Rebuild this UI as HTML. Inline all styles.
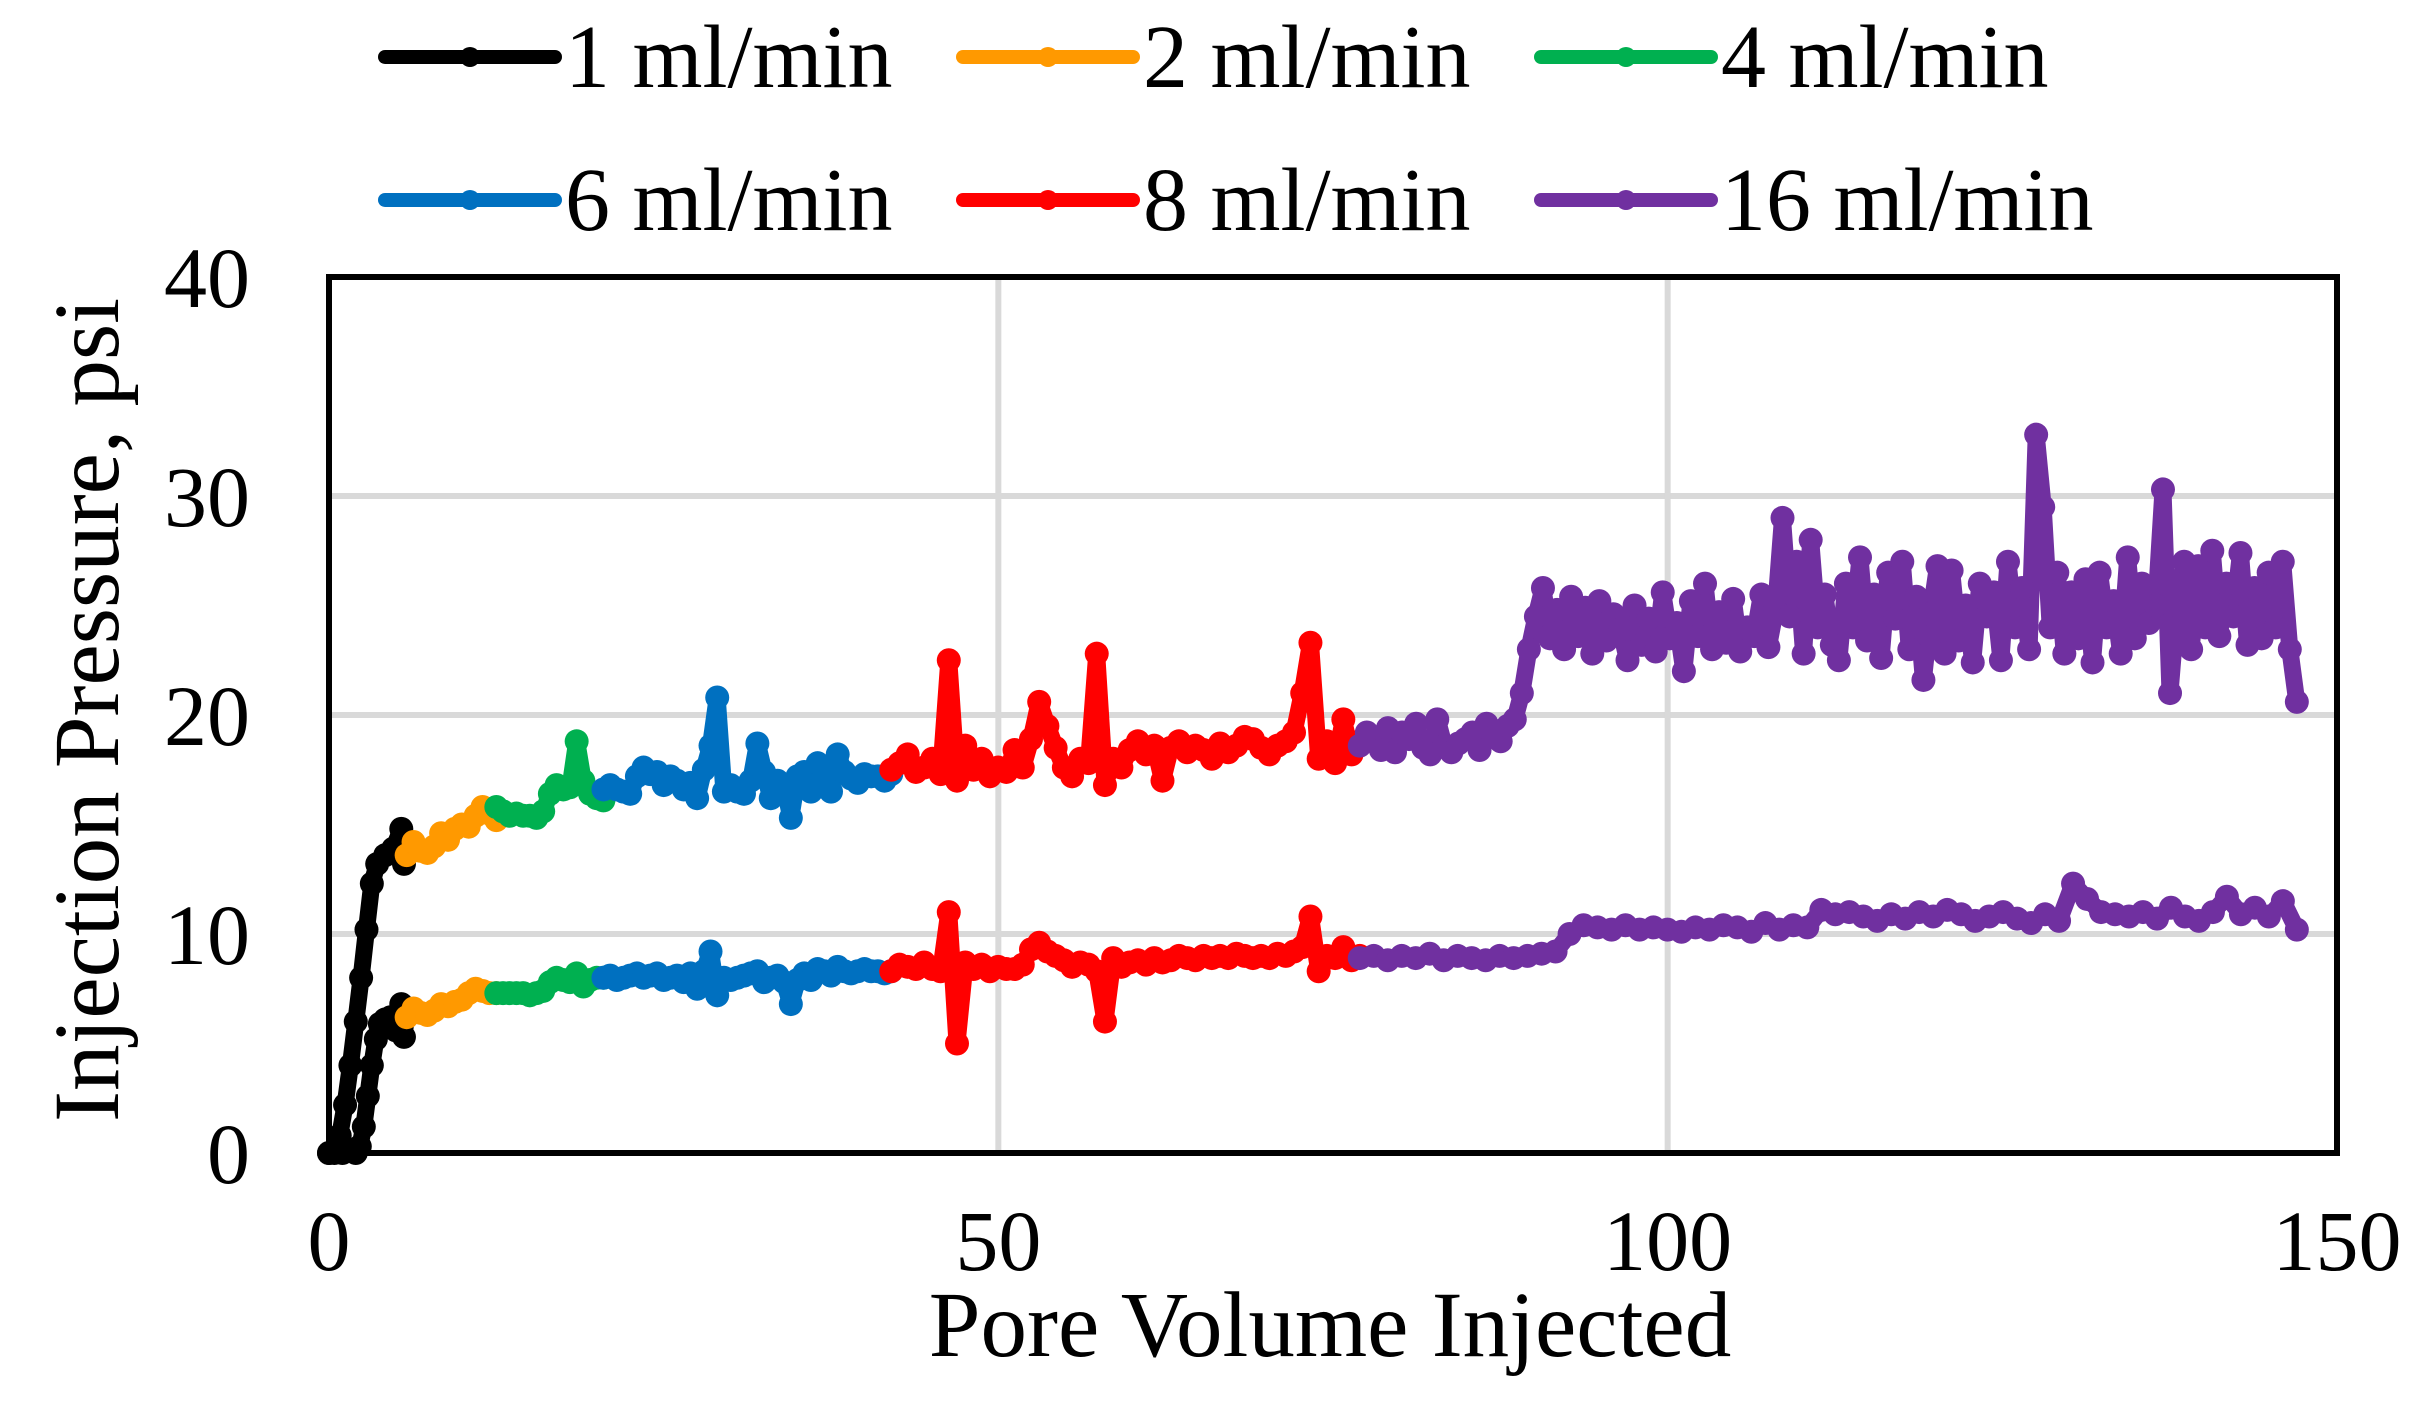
<!DOCTYPE html>
<html><head><meta charset="utf-8"><style>
html,body{margin:0;padding:0;background:#fff}
svg text{font-family:"Liberation Serif","Times New Roman",serif;fill:#000}
</style></head><body>
<svg id="chart" width="2416" height="1405" viewBox="0 0 2416 1405" xmlns="http://www.w3.org/2000/svg">
<g id="grid"></g>
<g id="series"></g>
<rect x="329" y="277" width="2008" height="876" fill="none" stroke="#000" stroke-width="6"/>
<g id="ticks"></g>
<text x="1330" y="1356" font-size="93" text-anchor="middle">Pore Volume Injected</text>
<text transform="translate(118,710) rotate(-90)" font-size="93" text-anchor="middle">Injection Pressure, psi</text>
<g id="legend"></g>
</svg>
<script>
const xTicks=[0,50,100,150];
const yTicks=[0,10,20,30,40];
const seriesNames=["1 ml/min","2 ml/min","4 ml/min","6 ml/min","8 ml/min","16 ml/min"];
const seriesColors=["#000000","#FF9900","#00B050","#0070C0","#FF0000","#7030A0"];
const seriesXRange=[[0,5.8],[5.8,12.5],[12.5,20.5],[20.5,42],[42,77],[77,147]];
const blackUpperX=[0,0.4,0.8,1.2,1.6,2,2.4,2.8,3.2,3.6,4.2,4.8,5.4,5.6,5.8];
const blackUpper=[0,0,0.8,2.2,4,6,8,10.2,12.3,13.2,13.6,13.9,14.8,13.2,13.8];
const blackLowerX=[0,1,2,2.3,2.6,2.9,3.2,3.5,3.8,4.2,4.6,5,5.4,5.6,5.8];
const blackLower=[0,0,0,0.3,1.2,2.6,4,5.2,5.9,6.1,6.2,5.6,6.8,5.3,6.3];
const orangeUpper=[13.6,14.2,13.8,13.7,14.0,14.6,14.3,14.8,15.0,14.9,15.4,15.8,15.5,15.2];
const orangeLower=[6.2,6.6,6.4,6.3,6.5,6.8,6.7,6.9,7.0,7.3,7.5,7.4,7.3,7.3];
const greenUpper=[15.8,15.6,15.4,15.5,15.4,15.4,15.3,15.6,16.4,16.8,16.6,16.7,18.8,17.0,16.4,16.2,16.1];
const greenLower=[7.3,7.3,7.3,7.3,7.3,7.2,7.3,7.4,7.8,8.0,7.9,7.8,8.2,7.6,7.9,8.0,8.0];
const blueUpper=[16.6,16.8,16.6,16.5,16.4,17.2,17.6,17.3,17.4,16.8,17.2,17.0,16.6,16.9,16.2,17.5,18.6,20.8,16.5,16.8,16.5,16.4,17.0,18.7,17.4,16.2,17.0,16.8,15.3,17.2,17.4,16.5,17.8,17.3,16.5,18.2,17.4,17.1,16.9,17.3,17.2,17.2,17.0,17.3];
const blueLower=[8.0,8.1,7.9,8.0,8.1,8.2,8.0,8.1,8.2,7.9,8.0,8.1,7.8,8.2,7.5,8.3,9.2,7.2,8.0,7.9,8.0,8.1,8.2,8.3,7.8,8.0,8.1,7.8,6.8,7.9,8.2,7.9,8.4,8.3,8.1,8.5,8.3,8.2,8.3,8.4,8.3,8.3,8.2,8.3];
const redUpper=[17.5,17.8,18.2,17.4,17.6,18.0,17.3,22.5,17.0,18.6,17.5,18.0,17.2,17.6,17.4,18.4,17.6,18.9,20.6,19.5,18.5,17.6,17.2,18.0,17.8,22.8,16.8,18.0,17.6,18.4,18.8,18.2,18.6,17.0,18.5,18.8,18.3,18.6,18.4,18.0,18.7,18.3,18.6,19.0,18.9,18.5,18.2,18.6,18.8,19.2,21.0,23.3,18.0,18.8,17.8,19.8,18.2,18.8];
const redLower=[8.3,8.6,8.5,8.4,8.7,8.4,8.3,11.0,5.0,8.7,8.4,8.6,8.3,8.5,8.4,8.4,8.6,9.3,9.6,9.2,9.0,8.8,8.5,8.7,8.6,8.3,6.0,8.9,8.5,8.7,8.8,8.6,8.9,8.7,8.8,9.0,8.9,8.8,9.0,8.9,9.0,8.9,9.1,9.0,8.9,9.0,8.9,9.1,9.0,9.2,9.4,10.8,8.3,9.0,8.9,9.4,8.8,9.0];
const purpleUpper=[18.6,19.2,18.8,18.4,19.4,18.3,19.2,18.9,19.6,18.5,18.2,19.8,18.6,18.3,18.7,18.9,19.2,18.4,19.6,19.0,18.8,19.5,19.8,21,23,24.5,
25.8,23.5,24.8,23.0,25.4,23.6,24.9,22.8,25.2,23.4,24.6,23.9,22.5,25.0,23.2,24.4,22.9,25.6,23.5,24.2,22.0,25.2,23.6,26.0,23.0,24.7,23.3,25.3,22.9,24.0,23.6,25.5,23.1,24.8,
29.0,24.5,27.0,22.8,28.0,24.0,25.5,23.2,22.5,26.0,24.0,27.2,23.4,25.5,22.6,26.5,24.4,27.0,23.0,25.4,21.6,24.6,26.8,22.8,26.6,23.4,25.0,22.4,26.0,24.5,25.6,22.5,27.0,24.0,25.8,23.0,
32.8,29.5,24.0,26.5,22.8,25.6,23.5,26.2,22.4,26.5,24.0,25.2,22.8,27.2,23.5,26.0,24.2,25.0,
30.3,21.0,25.0,27.0,23.0,26.8,24.0,27.5,23.6,26.0,24.5,27.4,23.2,25.8,23.5,26.5,24.0,27.0,23.0,20.6];
const purpleLower=[8.9,9.0,8.8,9.0,8.9,9.1,8.8,9.0,8.9,8.8,9.0,8.9,9.0,9.1,9.2,10.0,10.4,10.3,10.2,10.4,10.2,10.3,10.2,10.1,10.3,10.2,10.4,10.3,10.1,10.5,10.2,10.4,10.3,11.1,10.9,11.0,10.8,10.6,10.9,10.7,11.0,10.8,11.1,10.9,10.6,10.8,11.0,10.7,10.5,10.9,10.6,12.3,11.6,11.0,10.9,10.8,11.0,10.7,11.2,10.8,10.6,11.0,11.7,10.9,11.2,10.8,11.5,10.2];

const NS="http://www.w3.org/2000/svg";
const X0=329,X1=2337,Y0=1153,Y1=277;
function sx(v){return X0+(v-xTicks[0])/(xTicks[xTicks.length-1]-xTicks[0])*(X1-X0);}
function sy(v){return Y0-(v-yTicks[0])/(yTicks[yTicks.length-1]-yTicks[0])*(Y0-Y1);}
function mk(tag,attrs,parent){const e=document.createElementNS(NS,tag);for(const k in attrs)e.setAttribute(k,attrs[k]);parent.appendChild(e);return e;}
const grid=document.getElementById('grid'),ticks=document.getElementById('ticks'),ser=document.getElementById('series'),leg=document.getElementById('legend');
yTicks.forEach(t=>{
  if(t>yTicks[0]&&t<yTicks[yTicks.length-1]){const l=mk('line',{x1:X0,x2:X1,y1:sy(t),y2:sy(t),stroke:'#D9D9D9','stroke-width':6},grid);
  
  }
  const tx=mk('text',{x:250,y:sy(t)+30,'font-size':86,'text-anchor':'end'},ticks);tx.textContent=t;
  
  
});
xTicks.forEach(t=>{
  if(t>xTicks[0]&&t<xTicks[xTicks.length-1]){const l=mk('line',{x1:sx(t),x2:sx(t),y1:Y1,y2:Y0,stroke:'#D9D9D9','stroke-width':6},grid);
  
  }
  const tx=mk('text',{x:sx(t),y:1270,'font-size':86,'text-anchor':'middle'},ticks);tx.textContent=t;
  
  
});
function drawCurve(xs,ys,color,name){
  const g=mk('g',{},ser);
  
  
  const pts=ys.map((y,i)=>sx(xs[i]).toFixed(1)+','+sy(y).toFixed(1)).join(' ');
  mk('polyline',{points:pts,fill:'none',stroke:color,'stroke-width':17,'stroke-linejoin':'round'},g);
  ys.forEach((y,i)=>{const c=mk('circle',{cx:sx(xs[i]),cy:sy(y),r:12,fill:color},g);
    
    });
}
function spread(range,n){const a=[];for(let i=0;i<n;i++)a.push(range[0]+(range[1]-range[0])*i/(n-1));return a;}
drawCurve(blackUpperX,blackUpper,seriesColors[0],'series-1mlmin-upper');
drawCurve(blackLowerX,blackLower,seriesColors[0],'series-1mlmin-lower');
const others=[[orangeUpper,orangeLower],[greenUpper,greenLower],[blueUpper,blueLower],[redUpper,redLower],[purpleUpper,purpleLower]];
others.forEach((pair,k)=>{const idx=k+1;
  drawCurve(spread(seriesXRange[idx],pair[0].length),pair[0],seriesColors[idx],'series-'+idx+'-upper');
  drawCurve(spread(seriesXRange[idx],pair[1].length),pair[1],seriesColors[idx],'series-'+idx+'-lower');
});
const legX=[385,963,1541],legY=[57,200];
seriesNames.forEach((n,i)=>{
  const lx=legX[i%3],ly=legY[Math.floor(i/3)];
  const g=mk('g',{},leg);
  
  
  mk('line',{x1:lx,x2:lx+170,y1:ly,y2:ly,stroke:seriesColors[i],'stroke-width':14,'stroke-linecap':'round'},g);
  mk('circle',{cx:lx+85,cy:ly,r:10,fill:seriesColors[i]},g);
  const t=mk('text',{x:lx+180,y:ly+30,'font-size':90},g);t.textContent=n;
});
</script>
</body></html>
